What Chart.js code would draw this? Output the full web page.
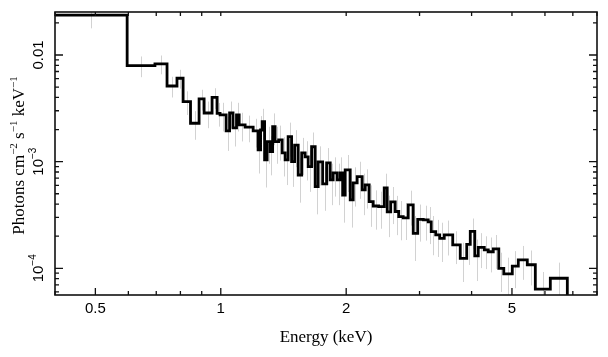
<!DOCTYPE html>
<html><head><meta charset="utf-8">
<script src="https://cdn.jsdelivr.net/npm/chart.js@4/dist/chart.umd.min.js"></script>
<style>html,body{margin:0;padding:0;background:#fff;}canvas{display:block;}</style>
</head><body>
<canvas id="c" width="608" height="357"></canvas>
<script>
// Bin edges (keV)
const binEdges = [0.40, 0.596, 0.695, 0.743, 0.785, 0.812, 0.846, 0.887, 0.912, 0.953,
  0.980, 0.996, 1.030, 1.050, 1.070, 1.091, 1.107, 1.144, 1.196, 1.229,
  1.246, 1.257, 1.274, 1.292, 1.314, 1.332, 1.350, 1.377, 1.404, 1.427,
  1.451, 1.479, 1.504, 1.534, 1.564, 1.594, 1.621, 1.652, 1.685, 1.713,
  1.756, 1.795, 1.831, 1.861, 1.903, 1.935, 1.962, 1.989, 2.045, 2.079,
  2.125, 2.185, 2.222, 2.271, 2.322, 2.394, 2.468, 2.509, 2.558, 2.622,
  2.674, 2.741, 2.818, 2.897, 2.970, 3.062, 3.147, 3.200, 3.281, 3.354,
  3.439, 3.604, 3.757, 3.894, 3.971, 4.071, 4.150, 4.290, 4.386, 4.509,
  4.649, 4.779, 5.009, 5.178, 5.442, 5.689, 6.181, 6.790];
// Unfolded flux per bin (photons cm^-2 s^-1 keV^-1)
const fluxValues = [0.0237, 0.00794, 0.00824, 0.00512, 0.00605, 0.00365, 0.00229, 0.00387, 0.00286, 0.00400,
  0.00284, 0.00274, 0.00194, 0.00286, 0.00207, 0.00274, 0.00221, 0.00211, 0.00194, 0.00129,
  0.00198, 0.00237, 0.00104, 0.00154, 0.00124, 0.00213, 0.00154, 0.00160, 0.00121, 0.00104,
  0.00172, 0.00100, 0.00143, 0.000750, 0.00121, 0.00111, 0.000898, 0.00138, 0.000583, 0.000994,
  0.000618, 0.000972, 0.000674, 0.000784, 0.000674, 0.000784, 0.000487, 0.000836, 0.000438, 0.000632,
  0.000723, 0.000543, 0.000605, 0.000422, 0.000384, 0.000379, 0.000567, 0.000338, 0.000419, 0.000341,
  0.000305, 0.000297, 0.000393, 0.000213, 0.000287, 0.000284, 0.000272, 0.000221, 0.000206, 0.000191,
  0.000206, 0.000166, 0.000124, 0.000168, 0.000222, 0.000131, 0.000157, 0.000149, 0.000143, 0.000152,
  0.000100, 0.0000886, 0.000105, 0.000120, 0.000108, 0.0000637, 0.0000807];
// Fractional 1-sigma errors per bin
const fluxErrors = [0.25, 0.22, 0.20, 0.22, 0.20, 0.25, 0.30, 0.22, 0.28, 0.22,
  0.25, 0.30, 0.35, 0.28, 0.33, 0.30, 0.30, 0.28, 0.30, 0.40,
  0.35, 0.32, 0.45, 0.38, 0.40, 0.33, 0.38, 0.36, 0.40, 0.42,
  0.35, 0.42, 0.38, 0.45, 0.38, 0.40, 0.42, 0.36, 0.45, 0.40,
  0.44, 0.38, 0.42, 0.40, 0.42, 0.40, 0.45, 0.38, 0.45, 0.40,
  0.38, 0.42, 0.40, 0.42, 0.40, 0.38, 0.36, 0.42, 0.38, 0.40,
  0.40, 0.38, 0.36, 0.45, 0.38, 0.36, 0.38, 0.40, 0.38, 0.40,
  0.36, 0.34, 0.40, 0.36, 0.32, 0.42, 0.36, 0.34, 0.36, 0.35,
  0.40, 0.42, 0.38, 0.35, 0.36, 0.45, 0.40];

const xTickValues = [0.4, 0.5, 0.6, 0.7, 0.8, 0.9, 1, 2, 3, 4, 5, 6, 7, 8];
const xLabelValues = [0.5, 1, 2, 5];
const xLabelTexts = ['0.5', '1', '2', '5'];
const yTickValues = [6e-5, 7e-5, 8e-5, 9e-5, 1e-4, 2e-4, 3e-4, 4e-4, 5e-4, 6e-4, 7e-4, 8e-4, 9e-4,
  1e-3, 2e-3, 3e-3, 4e-3, 5e-3, 6e-3, 7e-3, 8e-3, 9e-3, 0.01, 0.02];
const yLabelValues = [1e-4, 1e-3, 0.01];
const yLabelBases = ['10', '10', '0.01'];
const yLabelExps = ['\u22124', '\u22123', ''];
const xTitle = 'Energy (keV)';
const yTitleParts = [['Photons cm', false], ['\u22122', true], [' s', false], ['\u22121', true], [' keV', false], ['\u22121', true]];

const X_MIN = 0.4, X_MAX = 8.0, Y_MIN = 5.62e-5, Y_MAX = 0.0253;
const DROP_FLOOR = 1e-6;

const SANS = '"Liberation Sans", Arial, Helvetica, sans-serif';
const SERIF = '"Liberation Serif", "Times New Roman", Times, serif';

const stepPoints = binEdges.map((e, i) => ({x: e, y: i < fluxValues.length ? fluxValues[i] : DROP_FLOOR}));

function drawRotated(ctx, cx, cy, parts, baseFont, supFont, raise, baseline) {
  ctx.save();
  ctx.translate(cx, cy);
  ctx.rotate(-Math.PI / 2);
  const widths = [];
  let total = 0;
  parts.forEach(([t, s]) => { ctx.font = s ? supFont : baseFont; const w = ctx.measureText(t).width; widths.push(w); total += w; });
  let xx = -total / 2;
  ctx.textAlign = 'left';
  ctx.textBaseline = baseline;
  ctx.fillStyle = '#000';
  parts.forEach(([t, s], i) => { ctx.font = s ? supFont : baseFont; ctx.fillText(t, xx, s ? -raise : 0); xx += widths[i]; });
  ctx.restore();
}

const framePlugin = {
  id: 'frame',
  beforeDatasetsDraw(chart) {
    const {ctx, chartArea: a, scales: {x, y}} = chart;
    ctx.save();
    ctx.beginPath();
    ctx.rect(a.left, a.top, a.right - a.left, a.bottom - a.top);
    ctx.clip();
    ctx.strokeStyle = '#d2d2d2';
    ctx.lineWidth = 1;
    for (let i = 0; i < fluxValues.length; i++) {
      const xc = Math.sqrt(binEdges[i] * binEdges[i + 1]);
      const px = Math.round(x.getPixelForValue(xc)) + 0.5;
      const v = fluxValues[i], e = fluxErrors[i] * v;
      ctx.beginPath();
      ctx.moveTo(px, y.getPixelForValue(v + e));
      ctx.lineTo(px, y.getPixelForValue(Math.max(v - e, 1e-9)));
      ctx.stroke();
    }
    ctx.restore();
  },
  afterDatasetsDraw(chart) {
    const {ctx, chartArea: a, scales: {x, y}} = chart;
    ctx.save();
    ctx.strokeStyle = '#111';
    ctx.lineWidth = 1.3;
    xTickValues.forEach(v => {
      const px = x.getPixelForValue(v);
      const len = xLabelValues.includes(v) ? 7 : 4;
      ctx.beginPath();
      ctx.moveTo(px, a.bottom); ctx.lineTo(px, a.bottom - len);
      ctx.moveTo(px, a.top); ctx.lineTo(px, a.top + 4);
      ctx.stroke();
    });
    yTickValues.forEach(v => {
      const py = y.getPixelForValue(v);
      const len = yLabelValues.includes(v) ? 8 : 4;
      ctx.beginPath();
      ctx.moveTo(a.left, py); ctx.lineTo(a.left + len, py);
      ctx.moveTo(a.right, py); ctx.lineTo(a.right - len, py);
      ctx.stroke();
    });
    ctx.lineWidth = 1.6;
    ctx.strokeRect(a.left, a.top, a.right - a.left, a.bottom - a.top);
    // y tick labels
    yLabelValues.forEach((v, i) => {
      const py = y.getPixelForValue(v);
      const parts = [[yLabelBases[i], false]];
      if (yLabelExps[i]) parts.push([yLabelExps[i], true]);
      drawRotated(ctx, a.left - 16, py, parts, '15px ' + SANS, '10px ' + SANS, 6, 'middle');
    });
    // y title
    drawRotated(ctx, 24, (a.top + a.bottom) / 2 + 2, yTitleParts, '17px ' + SERIF, '11px ' + SERIF, 7, 'alphabetic');
    ctx.restore();
  }
};

Chart.defaults.color = '#000';
new Chart(document.getElementById('c'), {
  type: 'line',
  data: {
    datasets: [{
      label: 'Spectrum',
      data: stepPoints,
      borderColor: '#000',
      borderWidth: 2.8,
      pointRadius: 0,
      stepped: 'before',
      fill: false,
      tension: 0
    }]
  },
  options: {
    responsive: false,
    animation: false,
    devicePixelRatio: 1,
    layout: {padding: {top: 12, right: 11, left: 0, bottom: 0}},
    plugins: {legend: {display: false}, tooltip: {enabled: false}},
    scales: {
      x: {
        type: 'logarithmic', min: X_MIN, max: X_MAX, position: 'bottom',
        grid: {display: false, drawTicks: false},
        border: {display: false},
        afterBuildTicks: ax => { ax.ticks = xTickValues.map(v => ({value: v})); },
        afterFit: ax => { ax.height = 62; },
        ticks: {
          autoSkip: false, maxRotation: 0, minRotation: 0, padding: 5, color: '#000',
          font: {family: SANS, size: 15},
          callback: v => { const i = xLabelValues.indexOf(v); return i >= 0 ? xLabelTexts[i] : ''; }
        },
        title: {display: true, text: xTitle, color: '#000', font: {family: SERIF, size: 17}, padding: {top: 0, bottom: 9}}
      },
      y: {
        type: 'logarithmic', min: Y_MIN, max: Y_MAX,
        grid: {display: false, drawTicks: false},
        border: {display: false},
        ticks: {display: false},
        afterFit: ax => { ax.width = 55; }
      }
    }
  },
  plugins: [framePlugin]
});
</script>
</body></html>
